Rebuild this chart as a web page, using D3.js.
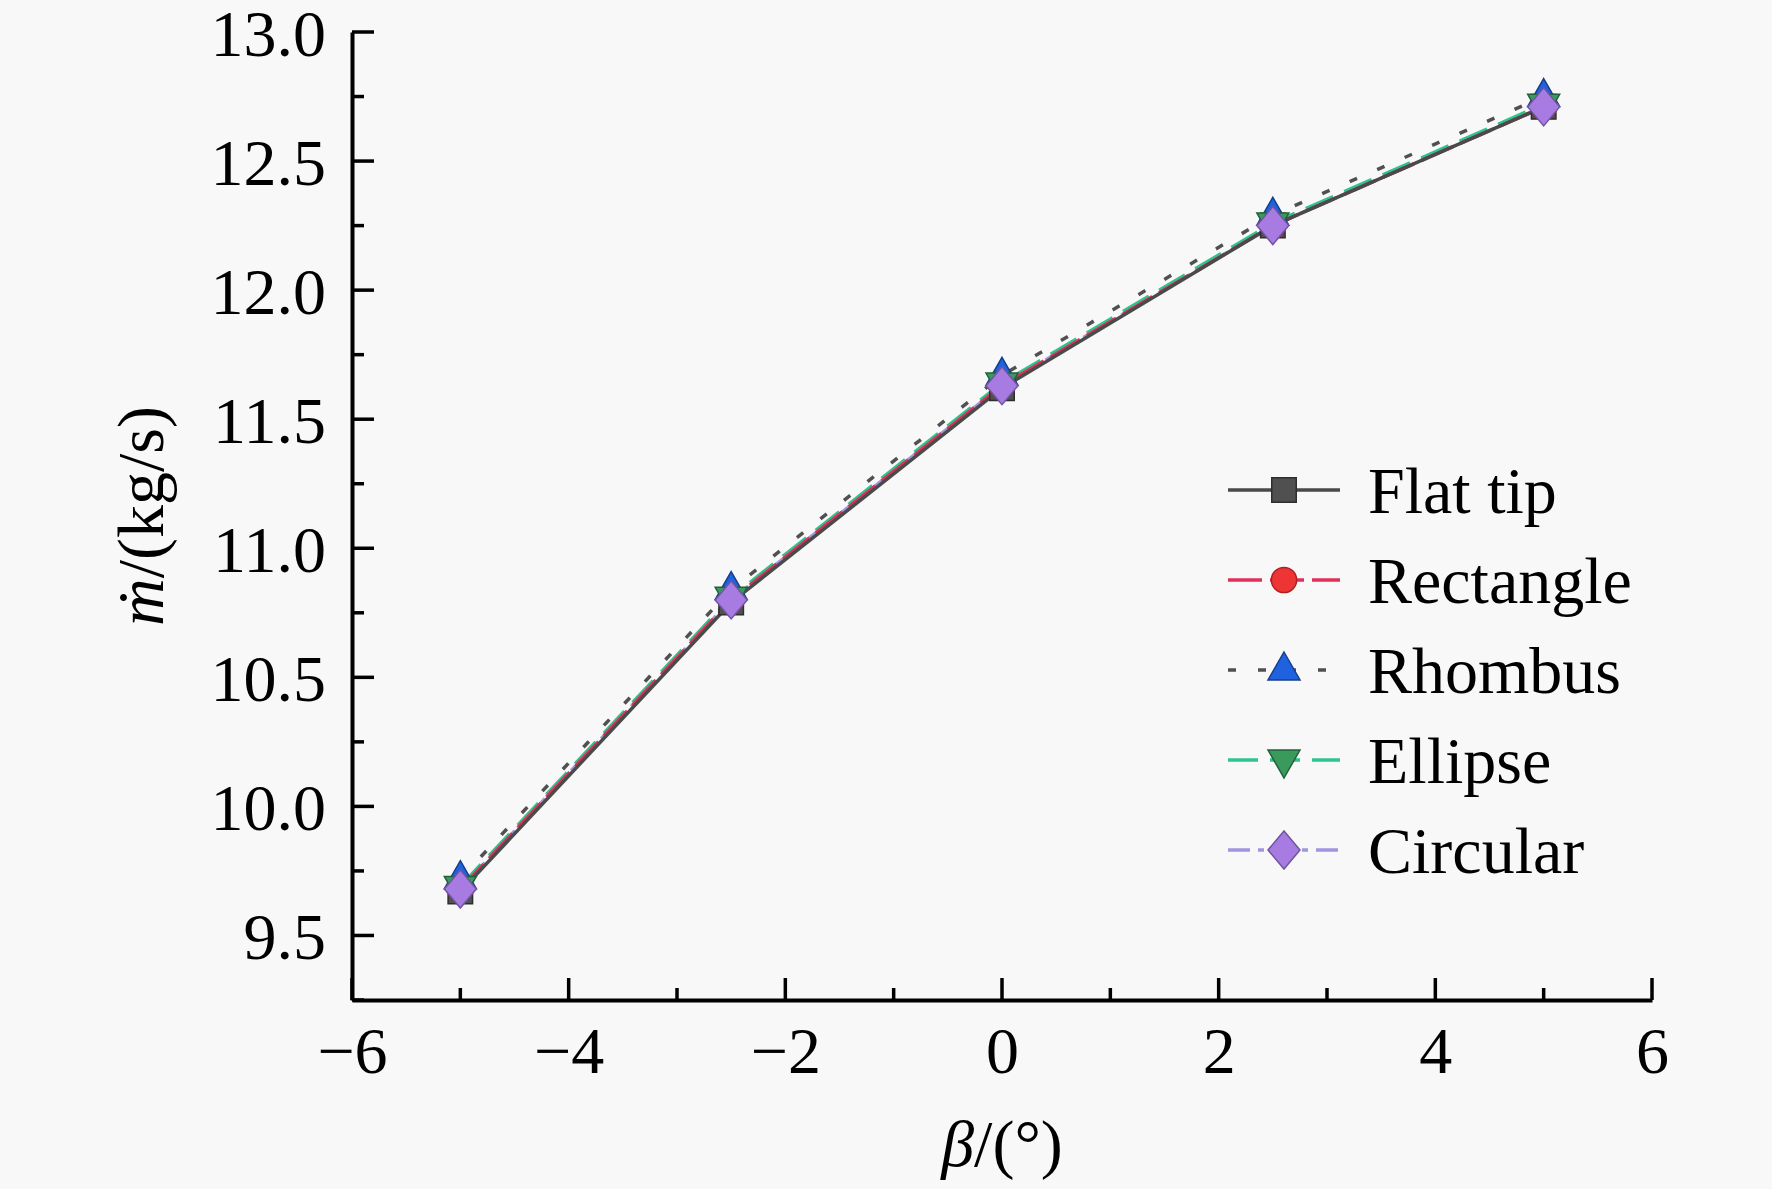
<!DOCTYPE html>
<html>
<head>
<meta charset="utf-8">
<script src="https://cdn.jsdelivr.net/npm/d3@7"></script>
<style>
  html, body { margin: 0; padding: 0; background: #f8f8f8; }
  svg { display: block; }
  svg text { font-family: "Liberation Serif", Tinos, "Times New Roman", Times, "DejaVu Serif", serif !important; fill: #000; }
</style>
</head>
<body>
<div id="chart"></div>
<script>
// data
const beta = [-5, -2.5, 0, 2.5, 5];
const seriesNames = ["Flat tip", "Rectangle", "Rhombus", "Ellipse", "Circular"];
const flatTip   = [9.67, 10.79, 11.62, 12.25, 12.71];
const rectangle = [9.68, 10.80, 11.63, 12.25, 12.71];
const rhombus   = [9.72, 10.84, 11.67, 12.29, 12.75];
const ellipse   = [9.69, 10.81, 11.64, 12.26, 12.72];
const circular  = [9.68, 10.80, 11.63, 12.25, 12.71];
const xTicks = [-6, -4, -2, 0, 2, 4, 6];
const yTicks = [9.5, 10.0, 10.5, 11.0, 11.5, 12.0, 12.5, 13.0];

const width = 1772, height = 1189;
const margin = { top: 32, right: 120, bottom: 189, left: 352 };
const serif = "'Liberation Serif', Tinos, 'Times New Roman', Times, 'DejaVu Serif', serif";
const fontSize = 66;

// style per series
const styles = [
  { line: "#4a4a4a", dash: null,          fill: "#505050", stroke: "#2e2e2e", shape: "square" },
  { line: "#e0305a", dash: "34,8",        fill: "#ee3535", stroke: "#b02020", shape: "circle" },
  { line: "#505050", dash: "8,22",        fill: "#1f62e0", stroke: "#173e8a", shape: "triangle" },
  { line: "#2ec48e", dash: "30,12",       fill: "#3a9a5c", stroke: "#22603a", shape: "triangleDown" },
  { line: "#a095e0", dash: "22,8,6,8",    fill: "#a87be2", stroke: "#6f55a0", shape: "diamond" }
];
const values = [flatTip, rectangle, rhombus, ellipse, circular];

const svg = d3.select("#chart").append("svg")
  .attr("width", width)
  .attr("height", height)
  .attr("font-family", serif);

svg.append("rect").attr("width", width).attr("height", height).attr("fill", "#f8f8f8");

const x = d3.scaleLinear().domain([-6, 6]).range([margin.left, width - margin.right]);
const y = d3.scaleLinear().domain([9.25, 13.0]).range([height - margin.bottom, margin.top]);

// marker shapes
function symbolPath(shape) {
  if (shape === "square") return d3.symbol(d3.symbolSquare, 600)();
  if (shape === "circle") return d3.symbol(d3.symbolCircle, 500)();
  if (shape === "triangle") return "M0,-18L16,10L-16,10Z";
  if (shape === "triangleDown") return "M0,18L16,-10L-16,-10Z";
  // diamond, a bit wider than d3's own
  return "M0,-19L16,0L0,19L-16,0Z";
}

// lines, flat tip last so it sits on top
const line = d3.line().x((d, i) => x(beta[i])).y(d => y(d));
const linesG = svg.append("g").attr("id", "lines");
for (let s = values.length - 1; s >= 0; s--) {
  linesG.append("path")
    .attr("d", line(values[s]))
    .attr("fill", "none")
    .attr("stroke", styles[s].line)
    .attr("stroke-width", 3.5)
    .attr("stroke-dasharray", styles[s].dash);
}

// markers
const markersG = svg.append("g").attr("id", "markers");
values.forEach((vals, s) => {
  markersG.selectAll(null)
    .data(vals)
    .enter()
    .append("path")
    .attr("d", symbolPath(styles[s].shape))
    .attr("transform", (d, i) => `translate(${x(beta[i])},${y(d)})`)
    .attr("fill", styles[s].fill)
    .attr("stroke", styles[s].stroke)
    .attr("stroke-width", 1.5);
});

// axes, ticks pointing inward
const axisStroke = 4;
const xAxis = svg.append("g")
  .attr("transform", `translate(0,${y.range()[0]})`)
  .call(d3.axisBottom(x).tickValues(xTicks).tickSize(0).tickPadding(0)
    .tickFormat(d => d < 0 ? "\u2212" + Math.abs(d) : d));
xAxis.attr("font-family", serif);
xAxis.select(".domain").attr("stroke", "#000").attr("stroke-width", axisStroke);
xAxis.selectAll("text")
  .attr("y", 73)
  .attr("dy", 0)
  .attr("font-size", fontSize);

// x ticks (major and minor), drawn upward
svg.append("g").selectAll("line")
  .data(d3.range(-6, 6.01, 1))
  .enter().append("line")
  .attr("x1", d => x(d)).attr("x2", d => x(d))
  .attr("y1", y.range()[0])
  .attr("y2", d => y.range()[0] - (d % 2 === 0 ? 22 : 12))
  .attr("stroke", "#000")
  .attr("stroke-width", 3.5);

const yAxis = svg.append("g")
  .attr("transform", `translate(${x.range()[0]},0)`)
  .call(d3.axisLeft(y).tickValues(yTicks).tickSize(0).tickPadding(26).tickFormat(d3.format(".1f")));
yAxis.attr("font-family", serif);
yAxis.select(".domain").attr("stroke", "#000").attr("stroke-width", axisStroke);
yAxis.selectAll("text")
  .attr("dy", "0.35em")
  .attr("font-size", fontSize);

// y ticks (major and minor), drawn to the right
svg.append("g").selectAll("line")
  .data(d3.range(9.25, 13.01, 0.25))
  .enter().append("line")
  .attr("y1", d => y(d)).attr("y2", d => y(d))
  .attr("x1", x.range()[0])
  .attr("x2", d => x.range()[0] + (Math.abs(d * 2 - Math.round(d * 2)) < 1e-6 ? 22 : 12))
  .attr("stroke", "#000")
  .attr("stroke-width", 3.5);

// axis titles
const xTitle = svg.append("text")
  .attr("x", x(0))
  .attr("y", 1166)
  .attr("text-anchor", "middle")
  .attr("font-size", fontSize);
xTitle.append("tspan").attr("font-style", "italic").text("\u03B2");
xTitle.append("tspan").text("/(\u00B0)");

const yTitle = svg.append("text")
  .attr("transform", `translate(163,${(y.range()[0] + y.range()[1]) / 2}) rotate(-90)`)
  .attr("text-anchor", "middle")
  .attr("font-size", fontSize);
yTitle.append("tspan").attr("font-style", "italic").text("\u1E41");
yTitle.append("tspan").text("/(kg/s)");

// legend
const legend = svg.append("g").attr("id", "legend");
const legendRows = [490, 580, 670, 760, 850];
seriesNames.forEach((name, s) => {
  const row = legend.append("g").attr("transform", `translate(0,${legendRows[s]})`);
  row.append("line")
    .attr("x1", 1228).attr("x2", 1340)
    .attr("y1", 0).attr("y2", 0)
    .attr("stroke", styles[s].line)
    .attr("stroke-width", 3.5)
    .attr("stroke-dasharray", styles[s].dash);
  row.append("path")
    .attr("d", symbolPath(styles[s].shape))
    .attr("transform", "translate(1284,0)")
    .attr("fill", styles[s].fill)
    .attr("stroke", styles[s].stroke)
    .attr("stroke-width", 1.5);
  row.append("text")
    .attr("x", 1368)
    .attr("y", 0)
    .attr("dy", "0.35em")
    .attr("font-size", fontSize)
    .text(name);
});
</script>
</body>
</html>
